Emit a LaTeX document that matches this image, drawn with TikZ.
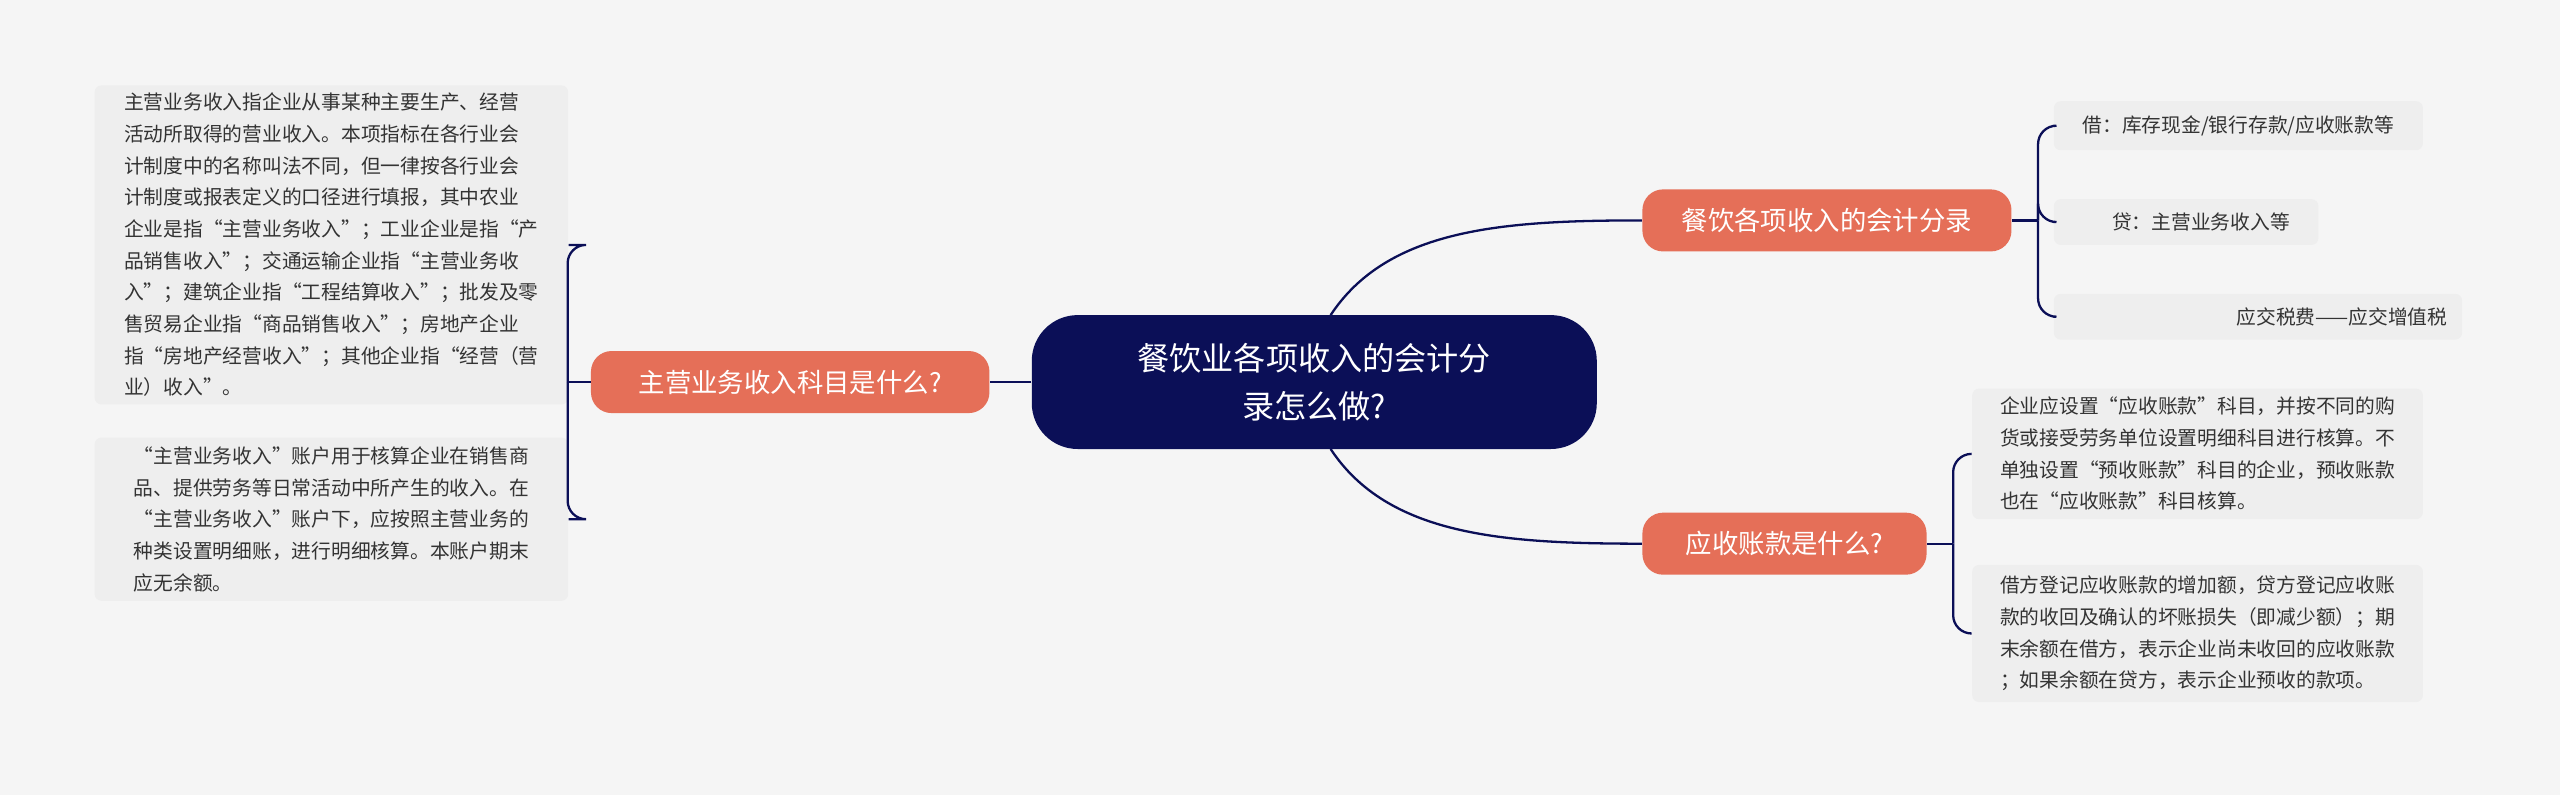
\documentclass[tikz,border=0pt]{standalone}
\usepackage{fontspec}
\setmainfont{Noto Sans CJK SC}
\usetikzlibrary{positioning}
\definecolor{bgcol}{HTML}{F5F5F5}
\definecolor{rootcol}{HTML}{0B0F57}
\definecolor{branchcol}{HTML}{E56F58}
\definecolor{leafcol}{HTML}{EEEEEE}
\definecolor{textcol}{HTML}{333333}
\begin{document}
\begin{tikzpicture}[
    x=0.025cm, y=-0.025cm,
    root/.style={rectangle, rounded corners=20pt, fill=rootcol, text=white, minimum width=8.65cm, minimum height=2.05cm, font=\fontsize{14}{21}\selectfont, align=center},
    branch/.style={rectangle, rounded corners=9pt, fill=branchcol, text=white, minimum height=0.95cm, inner xsep=8pt, font=\fontsize{11.5}{14}\selectfont},
    leaf/.style={rectangle, rounded corners=3pt, fill=leafcol, text=textcol, align=left, inner xsep=6pt, font=\fontsize{8.6}{13.8}\selectfont},
    link/.style={draw=rootcol, line width=1pt},
    bracket/.style={link, rounded corners=8pt}
]
    \fill[bgcol] (0,0) rectangle (1568,487);

    % root and branches
    \node [root] (root) at (805,234) {餐饮业各项收入的会计分\\录怎么做?};
    \node [branch, minimum width=6.1cm] (left) at (484,234) {主营业务收入科目是什么?};
    \node [branch, minimum width=5.65cm] (rtop) at (1119,135) {餐饮各项收入的会计分录};
    \node [branch, minimum width=4.35cm] (rbot) at (1093,333) {应收账款是什么?};

    % leaves, left side
    \node [leaf, minimum width=7.25cm, minimum height=4.5cm] (l1) at (203,150) {主营业务收入指企业从事某种主要生产、经营\\活动所取得的营业收入。本项指标在各行业会\\计制度中的名称叫法不同，但一律按各行业会\\计制度或报表定义的口径进行填报，其中农业\\企业是指“主营业务收入”；工业企业是指“产\\品销售收入”；交通运输企业指“主营业务收\\入”；建筑企业指“工程结算收入”；批发及零\\售贸易企业指“商品销售收入”；房地产企业\\指“房地产经营收入”；其他企业指“经营（营\\业）收入”。};
    \node [leaf, minimum width=7.25cm, minimum height=2.5cm] (l2) at (203,318) {“主营业务收入”账户用于核算企业在销售商\\品、提供劳务等日常活动中所产生的收入。在\\“主营业务收入”账户下，应按照主营业务的\\种类设置明细账，进行明细核算。本账户期末\\应无余额。};

    % leaves, right side
    \node [leaf, minimum width=5.65cm, minimum height=0.75cm] (r1) at (1371,77) {借：库存现金/银行存款/应收账款等};
    \node [leaf, minimum width=4.05cm, minimum height=0.7cm, align=right] (r2) at (1339,136) {\hspace{1.5em}贷：主营业务收入等};
    \node [leaf, minimum width=6.25cm, minimum height=0.7cm, text width=5.8cm, align=right] (r3) at (1383,194) {应交税费——应交增值税};
    \node [leaf, minimum width=6.9cm, minimum height=2cm] (r4) at (1346,278) {企业应设置“应收账款”科目，并按不同的购\\货或接受劳务单位设置明细科目进行核算。不\\单独设置“预收账款”科目的企业，预收账款\\也在“应收账款”科目核算。};
    \node [leaf, minimum width=6.9cm, minimum height=2.1cm] (r5) at (1346,388) {借方登记应收账款的增加额，贷方登记应收账\\款的收回及确认的坏账损失（即减少额）；期\\末余额在借方，表示企业尚未收回的应收账款\\；如果余额在贷方，表示企业预收的款项。};

    % root to branches
    \draw [link] (root.west) -- (left.east);
    \draw [link] (815,193) .. controls (850,140) and (920,135) .. (rtop.west);
    \draw [link] (815,275) .. controls (850,328) and (920,333) .. (rbot.west);

    % brackets to leaves
    \draw [link] (left.west) -- ++(-14,0) coordinate (lj);
    \foreach \n in {l1,l2} \draw [bracket] (lj) |- (\n.east);
    \draw [link] (rtop.east) -- ++(16,0) coordinate (rj);
    \foreach \n in {r1,r2,r3} \draw [bracket] (rj) |- (\n.west);
    \draw [link] (rbot.east) -- ++(16,0) coordinate (bj);
    \foreach \n in {r4,r5} \draw [bracket] (bj) |- (\n.west);
\end{tikzpicture}
\end{document}
